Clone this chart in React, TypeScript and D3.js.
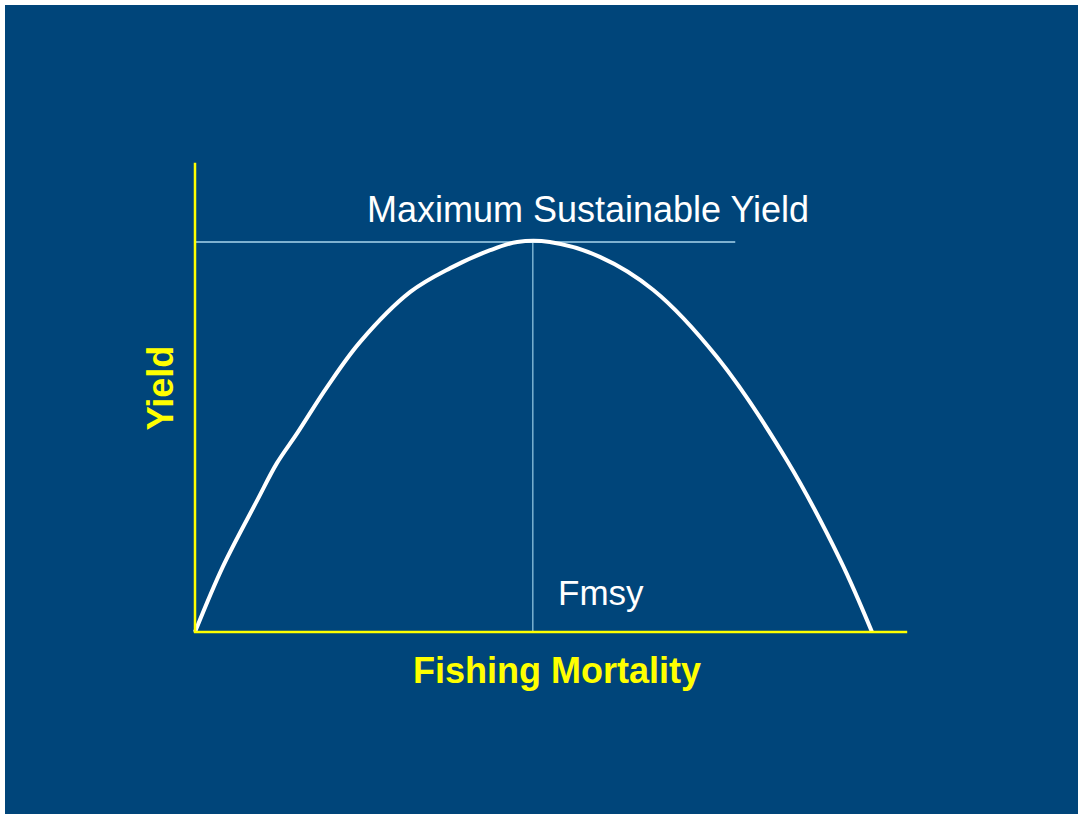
import React from "react";
import * as d3 from "d3";

const fishingMortality = [0, 0.041, 0.092, 0.121, 0.151, 0.195, 0.244, 0.318, 0.377, 0.436, 0.476, 0.524, 0.598, 0.677, 0.771, 0.874, 0.953, 1.0];
const yieldValues = [0, 0.167, 0.338, 0.433, 0.51, 0.628, 0.744, 0.872, 0.933, 0.979, 1.0, 1.0, 0.962, 0.877, 0.705, 0.441, 0.185, 0];
const fmsy = 0.499;
const msy = 1.0;
const msyLineEnd = 0.798;
const xAxisMax = 1.052;
const yAxisMax = 1.203;

const W = 1078;
const H = 814;

export default function App() {
  const x = d3.scaleLinear().domain([0, 1]).range([195, 872]);
  const y = d3.scaleLinear().domain([0, 1]).range([632, 242]);
  const pts: [number, number][] = fishingMortality.map((f, i) => [f, yieldValues[i]]);
  const line = d3
    .line<[number, number]>()
    .x((d) => x(d[0]))
    .y((d) => y(d[1]))
    .curve(d3.curveCatmullRom.alpha(0.5));
  const yellow = "#ffff00";
  const font = "'Liberation Sans', Arial, sans-serif";
  return (
    <svg
      width={W}
      height={H}
      style={{ position: "absolute", left: 0, top: 0, display: "block" }}
    >
      <rect x={0} y={0} width={W} height={H} fill="#ffffff" />
      <rect x={5} y={5} width={W - 5} height={H - 5} fill="#00457a" />
      <line x1={x(0)} x2={x(msyLineEnd)} y1={y(msy)} y2={y(msy)} stroke="#a9d6ee" strokeWidth={1.3} />
      <line x1={x(fmsy)} x2={x(fmsy)} y1={y(msy)} y2={y(0)} stroke="#8ec3df" strokeWidth={1.3} />
      <path d={line(pts) || ""} fill="none" stroke="#ffffff" strokeWidth={4} strokeLinejoin="round" />
      <line x1={x(0)} x2={x(0)} y1={y(yAxisMax)} y2={y(0) + 1} stroke={yellow} strokeWidth={2.5} />
      <line x1={x(0) - 1} x2={x(xAxisMax)} y1={y(0)} y2={y(0)} stroke={yellow} strokeWidth={2.5} />
      <text x={588} y={222} textAnchor="middle" fill="#ffffff" fontFamily={font} fontSize={36}>
        Maximum Sustainable Yield
      </text>
      <text x={558} y={605} fill="#ffffff" fontFamily={font} fontSize={35}>
        Fmsy
      </text>
      <text x={557} y={683} textAnchor="middle" fill={yellow} fontFamily={font} fontWeight="bold" fontSize={36}>
        Fishing Mortality
      </text>
      <text
        transform="translate(173,388) rotate(-90)"
        textAnchor="middle"
        fill={yellow}
        fontFamily={font}
        fontWeight="bold"
        fontSize={36}
      >
        Yield
      </text>
    </svg>
  );
}
